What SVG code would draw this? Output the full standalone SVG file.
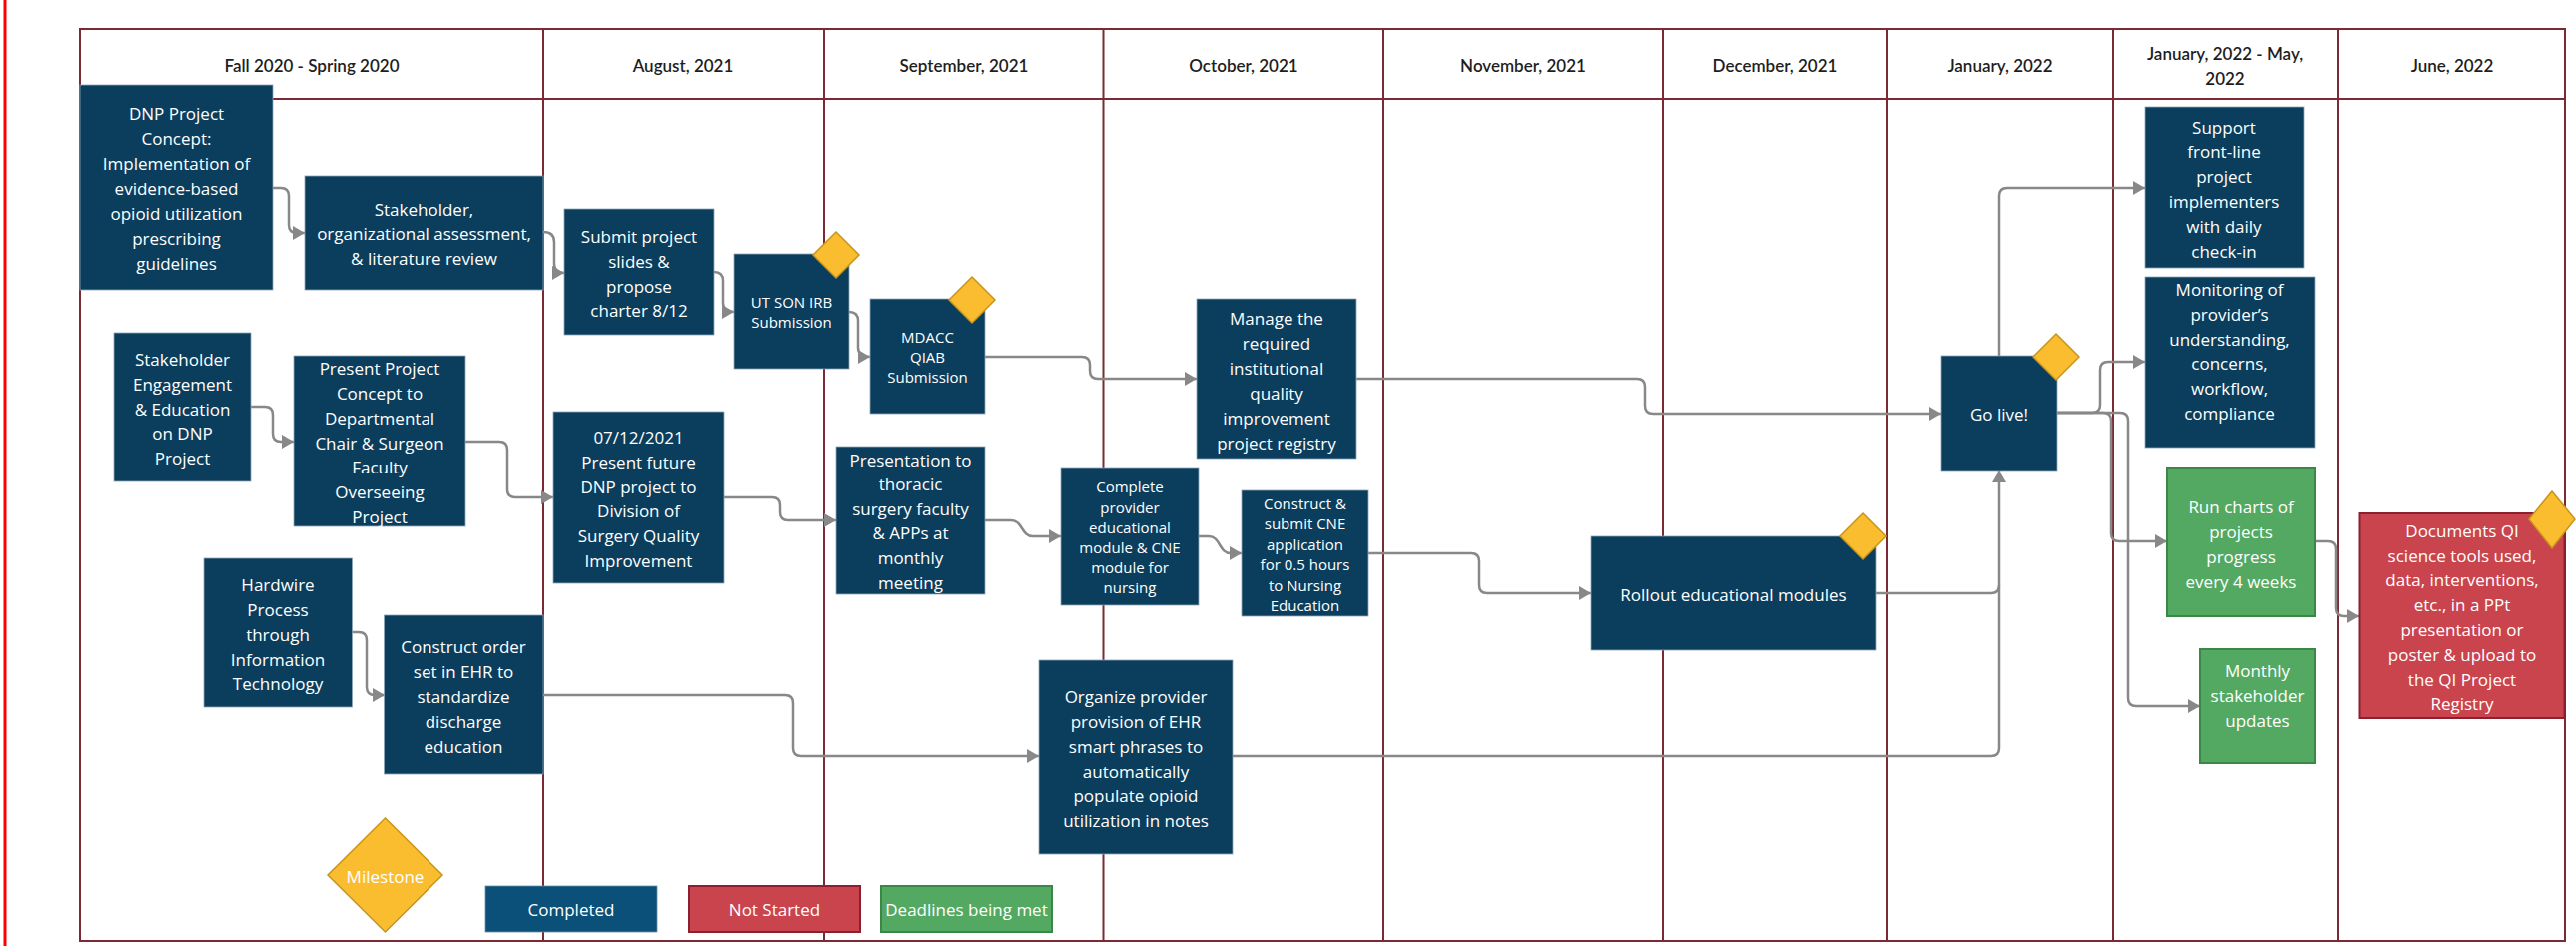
<svg xmlns="http://www.w3.org/2000/svg" width="2579" height="947" viewBox="0 0 2579 947">
<defs>
<marker id="arr" markerUnits="userSpaceOnUse" markerWidth="13" markerHeight="14" refX="12" refY="7" orient="auto">
<path d="M0,0 L12,7 L0,14 z" fill="#888"/>
</marker>
<style>
.frame{fill:none;stroke:#7b2a33;stroke-width:2}
.hd{font-family:Lato,"Open Sans",sans-serif;font-size:17px;font-weight:600;fill:#1e1e1e;text-anchor:middle;dominant-baseline:central}
.n{fill:#0b3e5d;stroke:#8ea6b8;stroke-width:0.8}
.g{fill:#54a962;stroke:#3b8745;stroke-width:2}
.r{fill:#c9444d;stroke:#8a2030;stroke-width:2}
.t{font-family:"Open Sans","Noto Sans",sans-serif;font-size:17px;fill:#ffffff;text-anchor:middle;dominant-baseline:central}
.s{font-size:15px}
.d{fill:#fbbd30;stroke:#c8951a;stroke-width:1.5}
.c{fill:none;stroke:#888;stroke-width:2.5}
.ca{fill:none;stroke:#888;stroke-width:2.5;marker-end:url(#arr)}
</style>
</defs>
<rect x="0" y="0" width="2579" height="947" fill="#ffffff"/>
<line x1="5" y1="0" x2="5" y2="947" stroke="#ff0000" stroke-width="3"/>

<g id="frame">
<rect class="frame" x="80" y="29" width="2488" height="913"/>
<line class="frame" x1="80" y1="99" x2="2568" y2="99" stroke-width="2.5"/>
<line class="frame" x1="544" y1="29" x2="544" y2="942"/>
<line class="frame" x1="825" y1="29" x2="825" y2="942"/>
<line class="frame" x1="1104.5" y1="29" x2="1104.5" y2="942"/>
<line class="frame" x1="1385" y1="29" x2="1385" y2="942"/>
<line class="frame" x1="1665" y1="29" x2="1665" y2="942"/>
<line class="frame" x1="1889" y1="29" x2="1889" y2="942"/>
<line class="frame" x1="2115" y1="29" x2="2115" y2="942"/>
<line class="frame" x1="2341" y1="29" x2="2341" y2="942"/>
<text class="hd" x="312" y="65">Fall 2020 - Spring 2020</text>
<text class="hd" x="684" y="65">August, 2021</text>
<text class="hd" x="965" y="65">September, 2021</text>
<text class="hd" x="1245" y="65">October, 2021</text>
<text class="hd" x="1525" y="65">November, 2021</text>
<text class="hd" x="1777" y="65">December, 2021</text>
<text class="hd" x="2002" y="65">January, 2022</text>
<text class="hd" x="2228" y="53">January, 2022 - May,</text>
<text class="hd" x="2228" y="78">2022</text>
<text class="hd" x="2455" y="65">June, 2022</text>
</g>

<g id="connectors">
<path class="ca" d="M273,188 H281 Q289,188 289,196 V225 Q289,233 297,233 H305"/>
<path class="ca" d="M544,232 Q555,232 555,242 V264 Q555,273 565,273"/>
<path class="ca" d="M715,272 Q724,272 724,281 V303 Q724,312 735,312"/>
<path class="ca" d="M850,312 Q859,312 859,321 V348 Q859,357 871,357"/>
<path class="ca" d="M986,357 H1083 Q1091,357 1091,365 V371 Q1091,379 1099,379 H1198"/>
<path class="ca" d="M1358,379 H1639 Q1647,379 1647,387 V406 Q1647,414 1655,414 H1943"/>
<path class="ca" d="M251,407 H265 Q273,407 273,415 V434 Q273,442 281,442 H294"/>
<path class="ca" d="M466,442 H500 Q508,442 508,450 V490 Q508,498 516,498 H554"/>
<path class="ca" d="M725,498 H773 Q781,498 781,506 V513 Q781,521 789,521 H837"/>
<path class="ca" d="M986,521 H1012 C1024,521 1022,537 1034,537 H1062"/>
<path class="ca" d="M1200,537 H1210 C1222,537 1220,554 1232,554 H1243"/>
<path class="ca" d="M1370,554 H1473 Q1481,554 1481,562 V586 Q1481,594 1489,594 H1593"/>
<path class="c" d="M1878,594 H1993 Q2001,594 2001,586"/>
<path class="ca" d="M1234,757 H1993 Q2001,757 2001,749 V471"/>
<path class="ca" d="M544,696 H786 Q794,696 794,704 V749 Q794,757 802,757 H1040"/>
<path class="ca" d="M352,633 H359 Q367,633 367,641 V688 Q367,696 375,696 H385"/>
<path class="ca" d="M2001,356 V196 Q2001,188 2009,188 H2147"/>
<path class="ca" d="M2059,413 H2094 Q2102,413 2102,405 V370 Q2102,362 2110,362 H2147"/>
<path class="ca" d="M2059,413 H2105 Q2113,413 2113,421 V534 Q2113,542 2121,542 H2170"/>
<path class="ca" d="M2059,413 H2122 Q2130,413 2130,421 V699 Q2130,707 2138,707 H2203"/>
<path class="ca" d="M2318,542 H2331 Q2339,542 2339,550 V609 Q2339,617 2347,617 H2362"/>
</g>

<g id="n1"><rect class="n" x="80" y="85" width="193" height="205"/>
<text class="t"><tspan x="176.5" y="113">DNP Project</tspan><tspan x="176.5" y="138">Concept:</tspan><tspan x="176.5" y="163">Implementation of</tspan><tspan x="176.5" y="188">evidence-based</tspan><tspan x="176.5" y="213">opioid utilization</tspan><tspan x="176.5" y="238">prescribing</tspan><tspan x="176.5" y="263">guidelines</tspan></text></g>

<g id="n2"><rect class="n" x="305" y="176" width="239" height="114"/>
<text class="t"><tspan x="424.5" y="209">Stakeholder,</tspan><tspan x="424.5" y="233">organizational assessment,</tspan><tspan x="424.5" y="258">&amp; literature review</tspan></text></g>

<g id="n3"><rect class="n" x="565" y="209" width="150" height="126"/>
<text class="t"><tspan x="640" y="236">Submit project</tspan><tspan x="640" y="261">slides &amp;</tspan><tspan x="640" y="286">propose</tspan><tspan x="640" y="310">charter 8/12</tspan></text></g>

<g id="n4"><rect class="n" x="735" y="254" width="115" height="115"/>
<text class="t s"><tspan x="792.5" y="302">UT SON IRB</tspan><tspan x="792.5" y="322">Submission</tspan></text>
<path class="d" d="M837,232 L860,255 L837,278 L814,255 z"/></g>

<g id="n5"><rect class="n" x="871" y="299" width="115" height="115"/>
<text class="t s"><tspan x="928.5" y="337">MDACC</tspan><tspan x="928.5" y="357">QIAB</tspan><tspan x="928.5" y="377">Submission</tspan></text>
<path class="d" d="M973,277 L996,300 L973,323 L950,300 z"/></g>

<g id="n6"><rect class="n" x="1198" y="299" width="160" height="160"/>
<text class="t"><tspan x="1278" y="318">Manage the</tspan><tspan x="1278" y="343">required</tspan><tspan x="1278" y="368">institutional</tspan><tspan x="1278" y="393">quality</tspan><tspan x="1278" y="418">improvement</tspan><tspan x="1278" y="443">project registry</tspan></text></g>

<g id="n7"><rect class="n" x="114" y="333" width="137" height="149"/>
<text class="t"><tspan x="182.5" y="359">Stakeholder</tspan><tspan x="182.5" y="384">Engagement</tspan><tspan x="182.5" y="409">&amp; Education</tspan><tspan x="182.5" y="433">on DNP</tspan><tspan x="182.5" y="458">Project</tspan></text></g>

<g id="n8"><rect class="n" x="294" y="356" width="172" height="171"/>
<text class="t"><tspan x="380" y="368">Present Project</tspan><tspan x="380" y="393">Concept to</tspan><tspan x="380" y="418">Departmental</tspan><tspan x="380" y="443">Chair &amp; Surgeon</tspan><tspan x="380" y="467">Faculty</tspan><tspan x="380" y="492">Overseeing</tspan><tspan x="380" y="517">Project</tspan></text></g>

<g id="n9"><rect class="n" x="554" y="412" width="171" height="172"/>
<text class="t"><tspan x="639.5" y="437">07/12/2021</tspan><tspan x="639.5" y="462">Present future</tspan><tspan x="639.5" y="487">DNP project to</tspan><tspan x="639.5" y="511">Division of</tspan><tspan x="639.5" y="536">Surgery Quality</tspan><tspan x="639.5" y="561">Improvement</tspan></text></g>

<g id="n10"><rect class="n" x="837" y="447" width="149" height="148"/>
<text class="t"><tspan x="911.5" y="460">Presentation to</tspan><tspan x="911.5" y="484">thoracic</tspan><tspan x="911.5" y="509">surgery faculty</tspan><tspan x="911.5" y="533">&amp; APPs at</tspan><tspan x="911.5" y="558">monthly</tspan><tspan x="911.5" y="583">meeting</tspan></text></g>

<g id="n11"><rect class="n" x="1062" y="468" width="138" height="138"/>
<text class="t s"><tspan x="1131" y="487">Complete</tspan><tspan x="1131" y="508">provider</tspan><tspan x="1131" y="528">educational</tspan><tspan x="1131" y="548">module &amp; CNE</tspan><tspan x="1131" y="568">module for</tspan><tspan x="1131" y="588">nursing</tspan></text></g>

<g id="n12"><rect class="n" x="1243" y="491" width="127" height="126"/>
<text class="t s"><tspan x="1306.5" y="504">Construct &amp;</tspan><tspan x="1306.5" y="524">submit CNE</tspan><tspan x="1306.5" y="545">application</tspan><tspan x="1306.5" y="565">for 0.5 hours</tspan><tspan x="1306.5" y="586">to Nursing</tspan><tspan x="1306.5" y="606">Education</tspan></text></g>

<g id="n13"><rect class="n" x="1593" y="537" width="285" height="114"/>
<text class="t" x="1735.5" y="595">Rollout educational modules</text>
<path class="d" d="M1865,514 L1888,537 L1865,560 L1842,537 z"/></g>

<g id="n14"><rect class="n" x="1943" y="356" width="116" height="115"/>
<text class="t" x="2001" y="414" font-size="18">Go live!</text>
<path class="d" d="M2058,334 L2081,357 L2058,380 L2035,357 z"/></g>

<g id="n15"><rect class="n" x="2147" y="107" width="160" height="161"/>
<text class="t"><tspan x="2227" y="127">Support</tspan><tspan x="2227" y="151">front-line</tspan><tspan x="2227" y="176">project</tspan><tspan x="2227" y="201">implementers</tspan><tspan x="2227" y="226">with daily</tspan><tspan x="2227" y="251">check-in</tspan></text></g>

<g id="n16"><rect class="n" x="2147" y="277" width="171" height="171"/>
<text class="t"><tspan x="2232.5" y="289">Monitoring of</tspan><tspan x="2232.5" y="314">provider’s</tspan><tspan x="2232.5" y="339">understanding,</tspan><tspan x="2232.5" y="363">concerns,</tspan><tspan x="2232.5" y="388">workflow,</tspan><tspan x="2232.5" y="413">compliance</tspan></text></g>

<g id="n17"><rect class="g" x="2170" y="468" width="148" height="149"/>
<text class="t"><tspan x="2244" y="507">Run charts of</tspan><tspan x="2244" y="532">projects</tspan><tspan x="2244" y="557">progress</tspan><tspan x="2244" y="582">every 4 weeks</tspan></text></g>

<g id="n18"><rect class="g" x="2203" y="650" width="115" height="114"/>
<text class="t"><tspan x="2260.5" y="671">Monthly</tspan><tspan x="2260.5" y="696">stakeholder</tspan><tspan x="2260.5" y="721">updates</tspan></text></g>

<g id="n19"><rect class="r" x="2362.5" y="514" width="205" height="205"/>
<text class="t"><tspan x="2465" y="531">Documents QI</tspan><tspan x="2465" y="556">science tools used,</tspan><tspan x="2465" y="580">data, interventions,</tspan><tspan x="2465" y="605">etc., in a PPt</tspan><tspan x="2465" y="630">presentation or</tspan><tspan x="2465" y="655">poster &amp; upload to</tspan><tspan x="2465" y="680">the QI Project</tspan><tspan x="2465" y="704">Registry</tspan></text>
<path class="d" d="M2555,492 L2578,520 L2555,549 L2532,520 z"/></g>

<g id="n20"><rect class="n" x="204" y="559" width="148.5" height="149"/>
<text class="t"><tspan x="278" y="585">Hardwire</tspan><tspan x="278" y="610">Process</tspan><tspan x="278" y="635">through</tspan><tspan x="278" y="660">Information</tspan><tspan x="278" y="684">Technology</tspan></text></g>

<g id="n21"><rect class="n" x="384.5" y="616" width="159.5" height="159"/>
<text class="t"><tspan x="464" y="647">Construct order</tspan><tspan x="464" y="672">set in EHR to</tspan><tspan x="464" y="697">standardize</tspan><tspan x="464" y="722">discharge</tspan><tspan x="464" y="747">education</tspan></text></g>

<g id="n22"><rect class="n" x="1040" y="661" width="194" height="194"/>
<text class="t"><tspan x="1137" y="697">Organize provider</tspan><tspan x="1137" y="722">provision of EHR</tspan><tspan x="1137" y="747">smart phrases to</tspan><tspan x="1137" y="772">automatically</tspan><tspan x="1137" y="796">populate opioid</tspan><tspan x="1137" y="821">utilization in notes</tspan></text></g>

<g id="legend-milestone"><path class="d" d="M385.5,819 L443,876 L385.5,933 L328,876 z"/>
<text class="t" x="385.5" y="877" font-family="Lato, 'Open Sans', sans-serif" font-size="15">Milestone</text></g>
<g id="legend-completed"><rect x="486" y="887" width="172" height="46" fill="#0b5079" stroke="#6f8fa8" stroke-width="0.8"/>
<text class="t" x="572" y="910" font-size="14">Completed</text></g>
<g id="legend-notstarted"><rect class="r" x="690" y="887" width="171" height="46"/>
<text class="t" x="775.5" y="910" font-size="14">Not Started</text></g>
<g id="legend-deadlines"><rect class="g" x="882" y="887" width="171" height="46"/>
<text class="t" x="967.5" y="910" font-size="14">Deadlines being met</text></g>
</svg>
